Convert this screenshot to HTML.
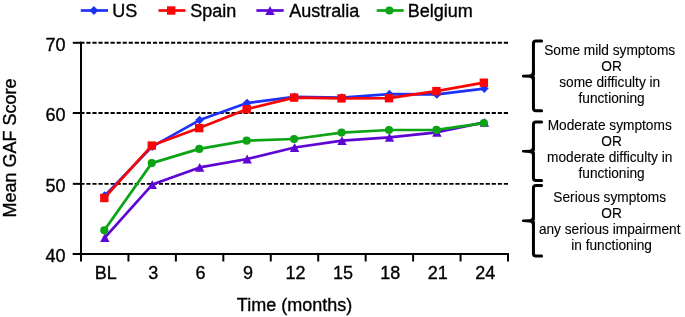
<!DOCTYPE html>
<html><head><meta charset="utf-8"><style>
html,body{margin:0;padding:0;background:#fff;}
svg{display:block;}
text{filter:grayscale(1);}
text{font-family:"Liberation Sans",sans-serif;font-size:18px;fill:#000;stroke:#000;stroke-width:0.35px;}
.s{font-size:14.3px;stroke-width:0.12px;}
</style></head><body>
<svg width="685" height="317" viewBox="0 0 685 317">
<line x1="80.3" y1="42.80" x2="508.00" y2="42.80" stroke="#000" stroke-width="1.9" stroke-dasharray="4.2 1.85"/>
<line x1="80.3" y1="113.00" x2="508.00" y2="113.00" stroke="#000" stroke-width="1.9" stroke-dasharray="4.2 1.85"/>
<line x1="80.3" y1="183.85" x2="508.00" y2="183.85" stroke="#000" stroke-width="1.9" stroke-dasharray="4.2 1.85"/>
<line x1="81.00" y1="41.80" x2="81.00" y2="261.5" stroke="#000" stroke-width="2"/>
<line x1="72.8" y1="42.80" x2="81.00" y2="42.80" stroke="#000" stroke-width="2"/>
<line x1="72.8" y1="113.00" x2="81.00" y2="113.00" stroke="#000" stroke-width="2"/>
<line x1="72.8" y1="183.85" x2="81.00" y2="183.85" stroke="#000" stroke-width="2"/>
<line x1="72.8" y1="253.95" x2="81.00" y2="253.95" stroke="#000" stroke-width="2"/>
<line x1="72.8" y1="253.95" x2="509.00" y2="253.95" stroke="#000" stroke-width="2"/>
<line x1="128.44" y1="252.95" x2="128.44" y2="261.5" stroke="#000" stroke-width="2"/>
<line x1="175.89" y1="252.95" x2="175.89" y2="261.5" stroke="#000" stroke-width="2"/>
<line x1="223.33" y1="252.95" x2="223.33" y2="261.5" stroke="#000" stroke-width="2"/>
<line x1="270.78" y1="252.95" x2="270.78" y2="261.5" stroke="#000" stroke-width="2"/>
<line x1="318.22" y1="252.95" x2="318.22" y2="261.5" stroke="#000" stroke-width="2"/>
<line x1="365.67" y1="252.95" x2="365.67" y2="261.5" stroke="#000" stroke-width="2"/>
<line x1="413.11" y1="252.95" x2="413.11" y2="261.5" stroke="#000" stroke-width="2"/>
<line x1="460.56" y1="252.95" x2="460.56" y2="261.5" stroke="#000" stroke-width="2"/>
<line x1="508.00" y1="252.95" x2="508.00" y2="261.5" stroke="#000" stroke-width="2"/>
<text x="65.6" y="51.10" text-anchor="end">70</text>
<text x="65.6" y="121.40" text-anchor="end">60</text>
<text x="65.6" y="191.70" text-anchor="end">50</text>
<text x="65.6" y="262.00" text-anchor="end">40</text>
<text x="105.72" y="279" text-anchor="middle">BL</text>
<text x="153.17" y="279" text-anchor="middle">3</text>
<text x="200.61" y="279" text-anchor="middle">6</text>
<text x="248.06" y="279" text-anchor="middle">9</text>
<text x="295.50" y="279" text-anchor="middle">12</text>
<text x="342.94" y="279" text-anchor="middle">15</text>
<text x="390.39" y="279" text-anchor="middle">18</text>
<text x="437.83" y="279" text-anchor="middle">21</text>
<text x="485.28" y="279" text-anchor="middle">24</text>
<text x="294.5" y="311" text-anchor="middle">Time (months)</text>
<text transform="translate(15.5,148) rotate(-90)" text-anchor="middle">Mean GAF Score</text>
<polyline points="104.72,195.60 152.17,146.60 199.61,120.10 247.06,103.10 294.50,96.90 341.94,97.60 389.39,94.20 436.83,94.40 484.28,88.60" fill="none" stroke="#1e32f5" stroke-width="2.7" stroke-linejoin="round"/>
<polyline points="104.32,198.00 151.77,145.60 199.21,128.10 246.66,109.20 294.10,97.60 341.54,98.40 388.99,98.20 436.43,91.10 483.88,82.70" fill="none" stroke="#f80606" stroke-width="2.7" stroke-linejoin="round"/>
<polyline points="104.82,237.60 152.27,184.60 199.71,167.40 247.16,159.00 294.60,147.50 342.04,140.70 389.49,137.30 436.93,132.30 484.38,122.40" fill="none" stroke="#5e06d4" stroke-width="2.7" stroke-linejoin="round"/>
<polyline points="104.32,230.30 151.77,163.10 199.21,148.90 246.66,140.70 294.10,139.00 341.54,132.60 388.99,130.00 436.43,129.90 483.88,123.10" fill="none" stroke="#0ca414" stroke-width="2.7" stroke-linejoin="round"/>
<path d="M104.72 191.20L109.12 195.60L104.72 200.00L100.32 195.60Z" fill="#1e32f5"/>
<path d="M152.17 142.20L156.57 146.60L152.17 151.00L147.77 146.60Z" fill="#1e32f5"/>
<path d="M199.61 115.70L204.01 120.10L199.61 124.50L195.21 120.10Z" fill="#1e32f5"/>
<path d="M247.06 98.70L251.46 103.10L247.06 107.50L242.66 103.10Z" fill="#1e32f5"/>
<path d="M294.50 92.50L298.90 96.90L294.50 101.30L290.10 96.90Z" fill="#1e32f5"/>
<path d="M341.94 93.20L346.34 97.60L341.94 102.00L337.54 97.60Z" fill="#1e32f5"/>
<path d="M389.39 89.80L393.79 94.20L389.39 98.60L384.99 94.20Z" fill="#1e32f5"/>
<path d="M436.83 90.00L441.23 94.40L436.83 98.80L432.43 94.40Z" fill="#1e32f5"/>
<path d="M484.28 84.20L488.68 88.60L484.28 93.00L479.88 88.60Z" fill="#1e32f5"/>
<rect x="100.12" y="193.80" width="8.4" height="8.4" fill="#f80606"/>
<rect x="147.57" y="141.40" width="8.4" height="8.4" fill="#f80606"/>
<rect x="195.01" y="123.90" width="8.4" height="8.4" fill="#f80606"/>
<rect x="242.46" y="105.00" width="8.4" height="8.4" fill="#f80606"/>
<rect x="289.90" y="93.40" width="8.4" height="8.4" fill="#f80606"/>
<rect x="337.34" y="94.20" width="8.4" height="8.4" fill="#f80606"/>
<rect x="384.79" y="94.00" width="8.4" height="8.4" fill="#f80606"/>
<rect x="432.23" y="86.90" width="8.4" height="8.4" fill="#f80606"/>
<rect x="479.68" y="78.50" width="8.4" height="8.4" fill="#f80606"/>
<path d="M104.82 233.20L109.52 242.00L100.12 242.00Z" fill="#5e06d4"/>
<path d="M152.27 180.20L156.97 189.00L147.57 189.00Z" fill="#5e06d4"/>
<path d="M199.71 163.00L204.41 171.80L195.01 171.80Z" fill="#5e06d4"/>
<path d="M247.16 154.60L251.86 163.40L242.46 163.40Z" fill="#5e06d4"/>
<path d="M294.60 143.10L299.30 151.90L289.90 151.90Z" fill="#5e06d4"/>
<path d="M342.04 136.30L346.74 145.10L337.34 145.10Z" fill="#5e06d4"/>
<path d="M389.49 132.90L394.19 141.70L384.79 141.70Z" fill="#5e06d4"/>
<path d="M436.93 127.90L441.63 136.70L432.23 136.70Z" fill="#5e06d4"/>
<path d="M484.38 118.00L489.08 126.80L479.68 126.80Z" fill="#5e06d4"/>
<circle cx="104.32" cy="230.30" r="4.1" fill="#0ca414"/>
<circle cx="151.77" cy="163.10" r="4.1" fill="#0ca414"/>
<circle cx="199.21" cy="148.90" r="4.1" fill="#0ca414"/>
<circle cx="246.66" cy="140.70" r="4.1" fill="#0ca414"/>
<circle cx="294.10" cy="139.00" r="4.1" fill="#0ca414"/>
<circle cx="341.54" cy="132.60" r="4.1" fill="#0ca414"/>
<circle cx="388.99" cy="130.00" r="4.1" fill="#0ca414"/>
<circle cx="436.43" cy="129.90" r="4.1" fill="#0ca414"/>
<circle cx="483.88" cy="123.10" r="4.1" fill="#0ca414"/>
<line x1="80.8" y1="10.5" x2="108" y2="10.5" stroke="#1e32f5" stroke-width="2.7"/><path d="M93.90 6.10L98.30 10.50L93.90 14.90L89.50 10.50Z" fill="#1e32f5"/><text x="112.3" y="16.80">US</text>
<line x1="158.5" y1="10.5" x2="185.5" y2="10.5" stroke="#f80606" stroke-width="2.7"/><rect x="167.00" y="6.30" width="8.4" height="8.4" fill="#f80606"/><text x="190.3" y="16.80">Spain</text>
<line x1="256.4" y1="10.5" x2="283.7" y2="10.5" stroke="#5e06d4" stroke-width="2.7"/><path d="M270.00 6.10L274.70 14.90L265.30 14.90Z" fill="#5e06d4"/><text x="289.2" y="16.80">Australia</text>
<line x1="376.7" y1="10.5" x2="403.7" y2="10.5" stroke="#0ca414" stroke-width="2.7"/><circle cx="389.40" cy="10.50" r="4.1" fill="#0ca414"/><text x="407.8" y="16.80">Belgium</text>
<path d="M541.6 40.9L535.95 40.9Q533.45 40.9 533.45 43.4L533.45 108.2Q533.45 110.7 535.95 110.7L541.6 110.7" fill="none" stroke="#000" stroke-width="3" stroke-linecap="round" stroke-linejoin="round"/><path d="M523.2 74.80L529.45 74.50Q531.95 74.30 531.95 71.60L531.95 80.60Q531.95 77.90 529.45 77.70L523.2 77.40A1.3 1.3 0 0 1 523.2 74.80Z" fill="#000"/><path d="M535.05 74.50Q534.85 75.80 534.15 76.10Q534.85 76.40 535.05 77.70Z" fill="#fff"/>
<path d="M541.6 122.0L535.95 122.0Q533.45 122.0 533.45 124.5L533.45 178.1Q533.45 180.6 535.95 180.6L541.6 180.6" fill="none" stroke="#000" stroke-width="3" stroke-linecap="round" stroke-linejoin="round"/><path d="M523.2 150.00L529.45 149.70Q531.95 149.50 531.95 146.80L531.95 155.80Q531.95 153.10 529.45 152.90L523.2 152.60A1.3 1.3 0 0 1 523.2 150.00Z" fill="#000"/><path d="M535.05 149.70Q534.85 151.00 534.15 151.30Q534.85 151.60 535.05 152.90Z" fill="#fff"/>
<path d="M541.6 185.5L535.95 185.5Q533.45 185.5 533.45 188.0L533.45 253.5Q533.45 256.0 535.95 256.0L541.6 256.0" fill="none" stroke="#000" stroke-width="3" stroke-linecap="round" stroke-linejoin="round"/><path d="M523.2 219.50L529.45 219.20Q531.95 219.00 531.95 216.30L531.95 225.30Q531.95 222.60 529.45 222.40L523.2 222.10A1.3 1.3 0 0 1 523.2 219.50Z" fill="#000"/><path d="M535.05 219.20Q534.85 220.50 534.15 220.80Q534.85 221.10 535.05 222.40Z" fill="#fff"/>
<text x="609.7" y="55.20" text-anchor="middle" class="s" textLength="130.94" lengthAdjust="spacingAndGlyphs">Some mild symptoms</text><text x="611.6" y="71.20" text-anchor="middle" class="s" textLength="20.55" lengthAdjust="spacingAndGlyphs">OR</text><text x="609.7" y="87.20" text-anchor="middle" class="s" textLength="101.02" lengthAdjust="spacingAndGlyphs">some difficulty in</text><text x="611.6" y="103.20" text-anchor="middle" class="s" textLength="66.27" lengthAdjust="spacingAndGlyphs">functioning</text>
<text x="609.7" y="130.20" text-anchor="middle" class="s" textLength="124.10" lengthAdjust="spacingAndGlyphs">Moderate symptoms</text><text x="611.6" y="146.20" text-anchor="middle" class="s" textLength="20.55" lengthAdjust="spacingAndGlyphs">OR</text><text x="609.7" y="162.20" text-anchor="middle" class="s" textLength="125.39" lengthAdjust="spacingAndGlyphs">moderate difficulty in</text><text x="611.6" y="178.20" text-anchor="middle" class="s" textLength="66.27" lengthAdjust="spacingAndGlyphs">functioning</text>
<text x="609.7" y="201.50" text-anchor="middle" class="s" textLength="112.68" lengthAdjust="spacingAndGlyphs">Serious symptoms</text><text x="611.6" y="217.50" text-anchor="middle" class="s" textLength="20.55" lengthAdjust="spacingAndGlyphs">OR</text><text x="609.7" y="233.50" text-anchor="middle" class="s" textLength="141.62" lengthAdjust="spacingAndGlyphs">any serious impairment</text><text x="611.6" y="249.50" text-anchor="middle" class="s" textLength="80.74" lengthAdjust="spacingAndGlyphs">in functioning</text>
</svg>
</body></html>
